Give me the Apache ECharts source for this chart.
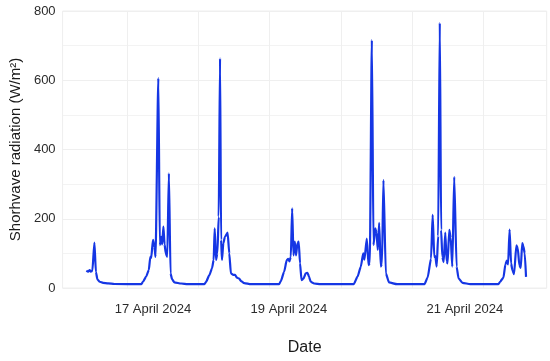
<!DOCTYPE html>
<html>
<head>
<meta charset="utf-8">
<script src="https://cdn.jsdelivr.net/npm/echarts@6/dist/echarts.min.js"></script>
<style>
html,body{margin:0;padding:0;background:#fff;}
#chart{width:550px;height:361px;}
</style>
</head>
<body>
<div id="chart"></div>
<script>
// Hours relative to 17 April 2024 00:00 (UTC)
var hours = [
  -13.6,-13.0,-12.5,-12.1,-11.6,-10.9,-10.4,-9.9,-9.1,-8.0,-6.3,-4.2,
  4.9,5.4,6.5,7.4,7.9,8.2,8.8,9.3,9.65,10.6,11.1,11.6,11.9,12.3,12.7,13.1,13.6,14.15,14.7,15.25,16.0,18.3,20.5,
  26.1,26.65,27.75,28.65,29.2,29.55,30.0,30.45,30.9,31.35,31.7,32.0,32.45,33.0,33.9,34.45,35.0,35.8,36.4,37.0,37.8,38.4,39.5,41.7,
  51.2,51.8,52.9,53.8,54.25,54.7,55.15,55.6,56.05,56.5,56.9,57.4,57.8,58.25,58.75,59.4,60.15,60.75,61.25,61.85,62.95,65.2,
  76.3,77.6,78.7,79.5,79.9,80.7,81.3,81.7,82.4,82.95,83.55,83.95,84.4,84.85,85.4,85.8,86.3,87.1,88.2,90.9,
  100.1,101.15,102.3,102.85,103.4,103.75,104.2,104.7,105.25,105.7,106.1,106.55,107.1,107.55,107.85,108.45,108.9,109.45,110.1,110.9,111.55,112.9,115.5,
  124.96,125.53,126.64,127.31,127.78,128.21,128.72,129.22,129.66,130.23,131.0,131.47,132.0,132.47,132.97,133.34,133.81,134.25
];
var radiation = [
  50,47,52,47,49,131,47,25,18,15,13.5,11.5,
  11,18,33,52,90,87,139,119,90,606,124,148,126,177,126,100,90,331,42,25,16,13,11,
  11,18,37,57,81,172,81,100,206,663,139,81,129,148,160,100,42,38,38,30,27,20,14,11,
  11,20,47,81,84,77,90,230,94,134,94,130,134,71,23,27,42,44,33,18,13,11,
  11,33,62,100,82,143,66,72,716,124,172,160,110,188,62,70,312,42,16,11,
  11,30,85,211,90,92,62,150,766,168,90,75,160,77,71,168,145,62,321,62,28,15,11,
  11,18,30,68,79,68,169,71,52,40,123,115,66,58,130,121,100,32
];
// Tick labels (positions in hours relative to 17 April 2024 00:00)
var tickHours = [8.8, 54.5, 113.7];
var tickLabels = ['17 April 2024', '19 April 2024', '21 April 2024'];
var yTicks = [0, 200, 400, 600, 800];

var HOUR = 3600 * 1000;
var base = Date.UTC(2024, 3, 17, 0, 0, 0);
var xMin = base - 21.6 * HOUR;
var xMax = base + 141.2 * HOUR;
var seriesData = hours.map(function (h, i) { return [base + h * HOUR, radiation[i]]; });
var labelValues = tickHours.map(function (h) { return base + h * HOUR; });

function labelFor(v) {
  for (var i = 0; i < labelValues.length; i++) {
    if (Math.abs(labelValues[i] - v) < 60000) return tickLabels[i];
  }
  return '';
}

var font = "'Liberation Sans', Arial, sans-serif";
var chart = echarts.init(document.getElementById('chart'), null, {renderer: 'canvas'});
chart.setOption({
  useUTC: true,
  animation: false,
  backgroundColor: '#ffffff',
  grid: {left: 61, right: 3.3, top: 11, bottom: 73, show: true, borderColor: '#efefef', borderWidth: 1},
  xAxis: [{
    type: 'time',
    min: xMin,
    max: xMax,
    minInterval: 24 * HOUR,
    maxInterval: 24 * HOUR,
    axisLine: {show: false},
    axisTick: {show: false},
    axisLabel: {show: false},
    splitLine: {show: true, lineStyle: {color: '#efefef', width: 1}}
  }, {
    type: 'value',
    position: 'bottom',
    offset: 0,
    min: xMin,
    max: xMax,
    name: 'Date',
    nameLocation: 'middle',
    nameGap: 52,
    nameTextStyle: {fontFamily: font, fontSize: 16, color: '#1a1a1a'},
    axisLine: {show: false},
    axisTick: {show: false},
    splitLine: {show: false},
    axisLabel: {
      customValues: labelValues,
      margin: 15,
      fontFamily: font,
      fontSize: 13,
      color: '#2b2b2b',
      formatter: function (v) { return labelFor(v); }
    }
  }],
  yAxis: {
    type: 'value',
    min: yTicks[0],
    max: yTicks[yTicks.length - 1],
    interval: yTicks[1] - yTicks[0],
    name: 'Shorhvave radiation (W/m²)',
    nameLocation: 'middle',
    nameGap: 38,
    nameTextStyle: {fontFamily: font, fontSize: 15, color: '#1a1a1a'},
    axisLine: {show: false},
    axisTick: {show: false},
    axisLabel: {margin: 7, fontFamily: font, fontSize: 13, color: '#2b2b2b'},
    splitLine: {show: true, lineStyle: {color: '#efefef', width: 1}},
    minorTick: {show: false, splitNumber: 2},
    minorSplitLine: {show: true, lineStyle: {color: '#f3f3f3', width: 1}}
  },
  series: [{
    type: 'line',
    xAxisIndex: 0,
    data: seriesData,
    showSymbol: false,
    symbol: 'none',
    smooth: 0.2,
    smoothMonotone: 'x',
    lineStyle: {color: '#1536e4', width: 2.2},
    itemStyle: {color: '#1536e4'}
  }]
});
</script>
</body>
</html>
